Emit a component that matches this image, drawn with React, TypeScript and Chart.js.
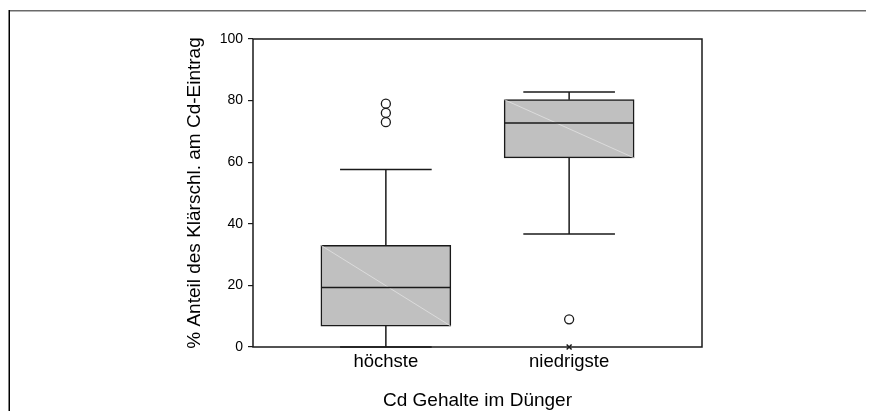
import React, { useEffect, useRef } from "react";
import { Chart, registerables } from "chart.js";

Chart.register(...registerables);

// ---- data ----
const categories = ["höchste", "niedrigste"];
const positions = [1, 2];
const lowerWhisker = [0, 36.7];
const q1 = [6.8, 61.4];
const median = [19.3, 72.7];
const q3 = [33.0, 80.3];
const upperWhisker = [57.6, 82.8];
const outliers = [[79, 76, 73], [9]];
const extremes: number[][] = [[], [0]];
const yTickValues = [0, 20, 40, 60, 80, 100];
const xTitle = "Cd Gehalte im Dünger";
const yTitle = "% Anteil des Klärschl. am Cd-Eintrag";

// ---- styles ----
const FONT = "'Liberation Sans', Arial, Helvetica, sans-serif";
const INK = "#1a1a1a";
const BOX_FILL = "#c0c0c0";
const BOX_HALF = 0.354; // half box width in x units
const CAP_HALF = 0.25; // half whisker-cap width in x units

function seg(x1: number, y1: number, x2: number, y2: number, color = INK, width = 1.5, order = 1) {
  return {
    type: "line" as const,
    data: [
      { x: x1, y: y1 },
      { x: x2, y: y2 },
    ],
    borderColor: color,
    borderWidth: width,
    pointRadius: 0,
    fill: false,
    tension: 0,
    clip: false as const,
    order,
  };
}

export default function App() {
  const ref = useRef<HTMLCanvasElement | null>(null);

  useEffect(() => {
    if (!ref.current) return;
    Chart.defaults.font.family = FONT;
    Chart.defaults.color = "#000";

    const datasets: any[] = [];
    datasets.push({
      type: "bar",
      data: positions.map((x, i) => ({ x, y: [q1[i], q3[i]] })),
      backgroundColor: BOX_FILL,
      borderColor: INK,
      borderWidth: 1.5,
      borderSkipped: false,
      barThickness: 130,
      order: 10,
    });
    positions.forEach((x, i) => {
      // faint diagonal inside box
      datasets.push(seg(x - BOX_HALF, q3[i], x + BOX_HALF, q1[i], "#e2e2e2", 0.8, 5));
      datasets.push(seg(x - BOX_HALF, median[i], x + BOX_HALF, median[i]));
      datasets.push(seg(x, q3[i], x, upperWhisker[i]));
      datasets.push(seg(x, q1[i], x, lowerWhisker[i]));
      datasets.push(seg(x - CAP_HALF, upperWhisker[i], x + CAP_HALF, upperWhisker[i]));
      datasets.push(seg(x - CAP_HALF, lowerWhisker[i], x + CAP_HALF, lowerWhisker[i]));
    });
    datasets.push({
      type: "scatter",
      data: positions.flatMap((x, i) => outliers[i].map((y) => ({ x, y }))),
      pointStyle: "circle",
      pointRadius: 4.5,
      pointBorderColor: INK,
      pointBackgroundColor: "rgba(0,0,0,0)",
      pointBorderWidth: 1.3,
      showLine: false,
      clip: false,
      order: 0,
    });
    datasets.push({
      type: "scatter",
      data: positions.flatMap((x, i) => extremes[i].map((y) => ({ x, y }))),
      pointStyle: "crossRot",
      pointRadius: 3.5,
      pointBorderColor: INK,
      pointBorderWidth: 1.5,
      showLine: false,
      clip: false,
      order: 0,
    });

    const framePlugin = {
      id: "frame",
      beforeDraw(chart: any) {
        const { ctx, width, height } = chart;
        ctx.save();
        ctx.strokeStyle = "#6a6a6a";
        ctx.lineWidth = 1.5;
        ctx.beginPath();
        ctx.moveTo(1, 2.75);
        ctx.lineTo(width + 10, 2.75);
        ctx.stroke();
        ctx.strokeStyle = "#000";
        ctx.beginPath();
        ctx.moveTo(1.25, 2);
        ctx.lineTo(1.25, height);
        ctx.stroke();
        ctx.restore();
      },
      afterDraw(chart: any) {
        const { ctx, chartArea: a } = chart;
        ctx.save();
        ctx.strokeStyle = INK;
        ctx.lineWidth = 1.5;
        ctx.strokeRect(a.left, a.top, a.right - a.left, a.bottom - a.top);
        ctx.restore();
      },
    };

    const chart = new Chart(ref.current, {
      type: "bar",
      data: { datasets },
      plugins: [framePlugin],
      options: {
        animation: false,
        responsive: true,
        maintainAspectRatio: false,
        events: [],
        layout: { padding: { left: 170, right: 172, top: 31, bottom: 0 } },
        plugins: { legend: { display: false }, tooltip: { enabled: false } },
        scales: {
          x: {
            type: "linear",
            min: 0.275,
            max: 2.725,
            offset: false,
            grid: { display: false, drawTicks: false },
            border: { display: false },
            afterBuildTicks: (scale: any) => {
              scale.ticks = positions.map((v) => ({ value: v }));
            },
            afterFit: (scale: any) => {
              scale.height = 72;
            },
            ticks: {
              padding: 4,
              font: { size: 18.5 },
              color: "#000",
              autoSkip: false,
              maxRotation: 0,
              callback: (v: any) => categories[positions.indexOf(Number(v))] ?? "",
            },
            title: {
              display: true,
              text: xTitle,
              font: { size: 19 },
              color: "#000",
              padding: { top: 0, bottom: 6.6 },
            },
          },
          y: {
            type: "linear",
            min: 0,
            max: 100,
            afterBuildTicks: (scale: any) => {
              scale.ticks = yTickValues.map((v) => ({ value: v }));
            },
            afterFit: (scale: any) => {
              scale.width = 75;
            },
            grid: {
              display: true,
              drawOnChartArea: false,
              drawTicks: true,
              tickLength: 5,
              color: INK,
              lineWidth: 1.2,
            },
            border: { display: false },
            ticks: { padding: 5, font: { size: 14 }, color: "#000" },
            title: {
              display: true,
              text: yTitle,
              font: { size: 19 },
              color: "#000",
              padding: { top: 5.6, bottom: 0 },
            },
          },
        },
      } as any,
    });
    return () => chart.destroy();
  }, []);

  return (
    <div style={{ width: 866, height: 411, marginBottom: -8, position: "relative" }}>
      <canvas ref={ref} />
    </div>
  );
}
